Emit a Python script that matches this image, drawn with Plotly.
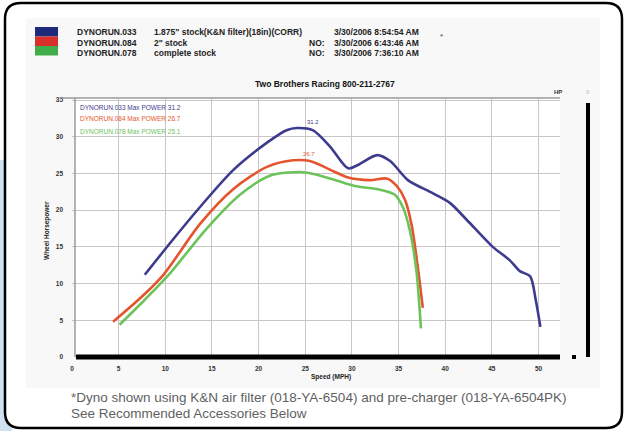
import plotly.graph_objects as go

# ---------------- data ----------------
speed_blue = [7.8, 10.5, 13.7, 17.3, 20.9, 23.0, 24.1, 25.8, 27.7, 29.6, 30.7, 32.7, 34.1,
              36.0, 38.7, 40.5, 42.3, 45.1, 46.9, 48.0, 49.1, 49.7, 50.2]
hp_blue = [11.2, 15.5, 20.4, 25.5, 29.2, 30.9, 31.2, 30.9, 28.6, 25.7, 26.2, 27.5, 26.7,
           24.1, 22.3, 21.0, 18.7, 15.0, 13.2, 11.7, 11.0, 7.8, 4.1]

speed_red = [4.4, 7.3, 9.8, 13.7, 17.3, 20.9, 23.7, 25.5, 27.7, 29.5, 31.9, 33.8, 34.8,
             35.7, 36.4, 37.1, 37.6]
hp_red = [4.8, 8.0, 11.2, 18.1, 22.9, 25.9, 26.8, 26.7, 25.5, 24.5, 24.1, 24.3, 23.3,
          21.4, 18.0, 11.9, 6.7]

speed_green = [5.1, 7.8, 10.5, 14.3, 18.0, 21.2, 24.4, 26.0, 28.2, 30.3, 33.0, 34.6,
               35.5, 36.2, 36.9, 37.4]
hp_green = [4.4, 7.8, 11.4, 17.3, 22.1, 24.7, 25.2, 24.9, 24.1, 23.3, 22.8, 22.1,
            20.3, 17.3, 11.9, 3.9]

run_names = ["DYNORUN.033", "DYNORUN.084", "DYNORUN.078"]
run_desc = ['1.875" stock(K&N filter)(18in)(CORR)', '2" stock', "complete stock"]
run_corr = ["", "NO:", "NO:"]
run_dates = ["3/30/2006 8:54:54 AM", "3/30/2006 6:43:46 AM", "3/30/2006 7:36:10 AM"]
max_power = [31.2, 26.7, 25.1]

x_ticks = [0, 5, 10, 15, 20, 25, 30, 35, 40, 45, 50]
y_ticks = [0, 5, 10, 15, 20, 25, 30, 35]

line_colors = ["#3d3b8e", "#e4552e", "#6cc35a"]
swatch_colors = ["#1d2a7c", "#d9302c", "#3fae4a"]

# ---------------- geometry helpers (pixel -> paper) ----------------
W, H = 628, 431
L, R, T, B = 72, 560, 98, 357


def X(px):
    return (px - L) / (R - L)


def Y(py):
    return (B - py) / (B - T)


fig = go.Figure()

series = [(speed_blue, hp_blue), (speed_red, hp_red), (speed_green, hp_green)]
for i, (sx, sy) in enumerate(series):
    fig.add_trace(go.Scatter(x=sx, y=sy, mode="lines", line=dict(color=line_colors[i], width=2.6,
                                                                  shape="spline", smoothing=0.8),
                             showlegend=False, hoverinfo="skip"))

# peak labels
for i in range(2):
    sx, sy = series[i]
    k = sy.index(max(sy))
    fig.add_annotation(x=sx[k], y=sy[k], text=f"{max_power[i]}", showarrow=False,
                       xshift=16, yshift=6, font=dict(size=6, color=line_colors[i], family="Arial"))

shapes = []
# light blue page background bottom-left
shapes.append(dict(type="rect", xref="paper", yref="paper", x0=X(0), x1=X(12), y0=Y(431), y1=Y(160),
                   fillcolor="#cfe1f1", line=dict(width=0), layer="below"))


def rrect(x0, y0, x1, y1, r):
    return (f"M {X(x0 + r)} {Y(y0)} L {X(x1 - r)} {Y(y0)} Q {X(x1)} {Y(y0)} {X(x1)} {Y(y0 + r)} "
            f"L {X(x1)} {Y(y1 - r)} Q {X(x1)} {Y(y1)} {X(x1 - r)} {Y(y1)} "
            f"L {X(x0 + r)} {Y(y1)} Q {X(x0)} {Y(y1)} {X(x0)} {Y(y1 - r)} "
            f"L {X(x0)} {Y(y0 + r)} Q {X(x0)} {Y(y0)} {X(x0 + r)} {Y(y0)} Z")


shapes.append(dict(type="path", xref="paper", yref="paper", path=rrect(5, 3, 622, 428, 16),
                   fillcolor="white", line=dict(color="black", width=2.5), layer="below"))
# chart image region
shapes.append(dict(type="rect", xref="paper", yref="paper", x0=X(26), x1=X(600), y0=Y(388), y1=Y(18),
                   fillcolor="#f8f8f8", line=dict(width=0), layer="below"))
# plot area white
shapes.append(dict(type="rect", xref="paper", yref="paper", x0=X(75), x1=X(560), y0=Y(357), y1=Y(98),
                   fillcolor="white", line=dict(width=0), layer="below"))
# top border
shapes.append(dict(type="line", xref="paper", yref="paper", x0=X(60), x1=X(560), y0=Y(98), y1=Y(98),
                   line=dict(color="#9a9a9a", width=1.5)))
# left axis line
shapes.append(dict(type="line", xref="paper", yref="paper", x0=X(75), x1=X(75), y0=Y(98), y1=Y(357),
                   line=dict(color="#9a9a9a", width=1.5)))
# heavy black x-axis bar
shapes.append(dict(type="line", xref="paper", yref="paper", x0=X(76), x1=X(560), y0=Y(357), y1=Y(357),
                   line=dict(color="black", width=5)))
shapes.append(dict(type="line", xref="paper", yref="paper", x0=X(572), x1=X(576), y0=Y(357), y1=Y(357),
                   line=dict(color="black", width=4)))
# right black bar
shapes.append(dict(type="line", xref="paper", yref="paper", x0=X(588), x1=X(588), y0=Y(103), y1=Y(357),
                   line=dict(color="black", width=4)))
# header colour swatches
for i, c in enumerate(swatch_colors):
    y0 = 27 + i * 9.5
    shapes.append(dict(type="rect", xref="paper", yref="paper", x0=X(35), x1=X(58), y0=Y(y0 + 9.5), y1=Y(y0),
                       fillcolor=c, line=dict(width=0)))

ann = []
hdr_font = dict(size=8.5, color="#222222", family="Liberation Sans, Arial")
for i in range(3):
    yy = Y(32 + i * 10.5)
    ann.append(dict(x=X(75), y=yy, text=f"<b>{run_names[i]}</b>", xanchor="left"))
    ann.append(dict(x=X(152), y=yy, text=f"<b>{run_desc[i]}</b>", xanchor="left"))
    if run_corr[i]:
        ann.append(dict(x=X(327), y=yy, text=f"<b>{run_corr[i]}</b>", xanchor="right"))
    ann.append(dict(x=X(332), y=yy, text=f"<b>{run_dates[i]}</b>", xanchor="left"))
for a in ann:
    a.update(xref="paper", yref="paper", yanchor="middle", showarrow=False, font=hdr_font)
    fig.add_annotation(**a)


def note(px, py, text, size, color, xanchor="center", angle=0, family="Arial"):
    fig.add_annotation(xref="paper", yref="paper", x=X(px), y=Y(py), text=text, showarrow=False,
                       xanchor=xanchor, yanchor="middle", textangle=angle,
                       font=dict(size=size, color=color, family=family))


note(441, 36, "*", 8, "#444")
note(325, 84, "<b>Two Brothers Racing 800-211-2767</b>", 8.5, "#111", family="Liberation Sans, Arial")
for i in range(3):
    note(78, 107 + i * 12, f"{run_names[i]} Max POWER {max_power[i]}", 6.5, line_colors[i], xanchor="left")
note(558, 92, "<b>HP</b>", 6, "#333")
note(588, 92, "0", 6, "#bbb")
note(47, 231, "<b>Wheel Horsepower</b>", 6.5, "#222", angle=-90)
note(331, 377, "<b>Speed (MPH)</b>", 6.5, "#222")
note(69, 397, "*Dyno shown using K&N air filter (018-YA-6504) and pre-charger (018-YA-6504PK)",
     13.5, "#5f5f5f", xanchor="left", family="Liberation Sans, Arial")
note(69, 413, "See Recommended Accessories Below",
     13.5, "#5f5f5f", xanchor="left", family="Liberation Sans, Arial")

fig.update_layout(
    width=W, height=H, margin=dict(l=L, r=W - R, t=T, b=H - B, pad=0),
    paper_bgcolor="white", plot_bgcolor="rgba(0,0,0,0)", shapes=shapes, showlegend=False,
    xaxis=dict(range=[0, (R - L) / 9.33], tickvals=x_ticks, ticktext=[f"<b>{v}</b>" for v in x_ticks],
               showgrid=True, gridcolor="#cbc6c6", gridwidth=1.4, zeroline=False, showline=False,
               tickfont=dict(size=6.5, color="#333", family="Arial"), ticklabelstandoff=6),
    yaxis=dict(range=[0, (B - T) / 7.34], tickvals=y_ticks, ticktext=[f"<b>{v}</b>" for v in y_ticks],
               showgrid=True, gridcolor="#cbc6c6", gridwidth=1.4, zeroline=False, showline=False,
               tickfont=dict(size=6.5, color="#333", family="Arial"), ticklabelstandoff=8),
)

fig.write_html("out.html", config={"displayModeBar": False},
               post_script="document.body.style.margin='0';document.body.style.padding='0';")
